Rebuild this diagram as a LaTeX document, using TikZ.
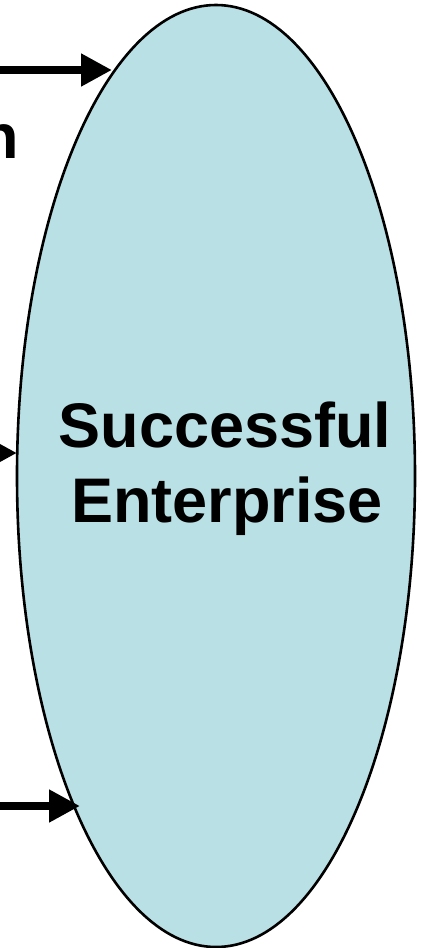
\documentclass[tikz,border=0pt]{standalone}
\usepackage{fontspec}
\setmainfont{Liberation Sans}
\usetikzlibrary{arrows.meta,shapes.geometric}
\definecolor{ellfill}{RGB}{185,224,228}
\tikzset{
  bigarrow/.style={line width=8pt,-{Triangle[length=31pt,width=31pt]}},
  bigtext/.style={font=\bfseries\fontsize{63}{75}\selectfont,inner sep=0pt},
  enterprise/.style={ellipse,draw=black,line width=2.6pt,fill=ellfill,inner sep=0pt,
    minimum width=398pt,minimum height=942pt}
}
\begin{document}
\begin{tikzpicture}[x=1pt,y=1pt]
\useasboundingbox (0,0) rectangle (423,-948);
\clip (0,0) rectangle (423,-948);
\fill[white] (0,0) rectangle (423,-948);
\node[enterprise] (E) at (216,-476) {};
\node[bigtext,anchor=base] (t1) at (225,-447) {Successful};
\node[bigtext,anchor=base] (t2) at (227,-522) {Enterprise};
\node[bigtext,anchor=base east] (n1) at (19,-158) {n};
\coordinate (a1s) at (-40,-70);
\coordinate (a1e) at (112,-70);
\coordinate (a2s) at (-80,-453);
\coordinate (a2e) at (17,-453);
\coordinate (a3s) at (-40,-806);
\coordinate (a3e) at (80,-806);
\draw[bigarrow] (a1s) -- (a1e);
\draw[bigarrow] (a2s) -- (a2e);
\draw[bigarrow] (a3s) -- (a3e);
\end{tikzpicture}
\end{document}
